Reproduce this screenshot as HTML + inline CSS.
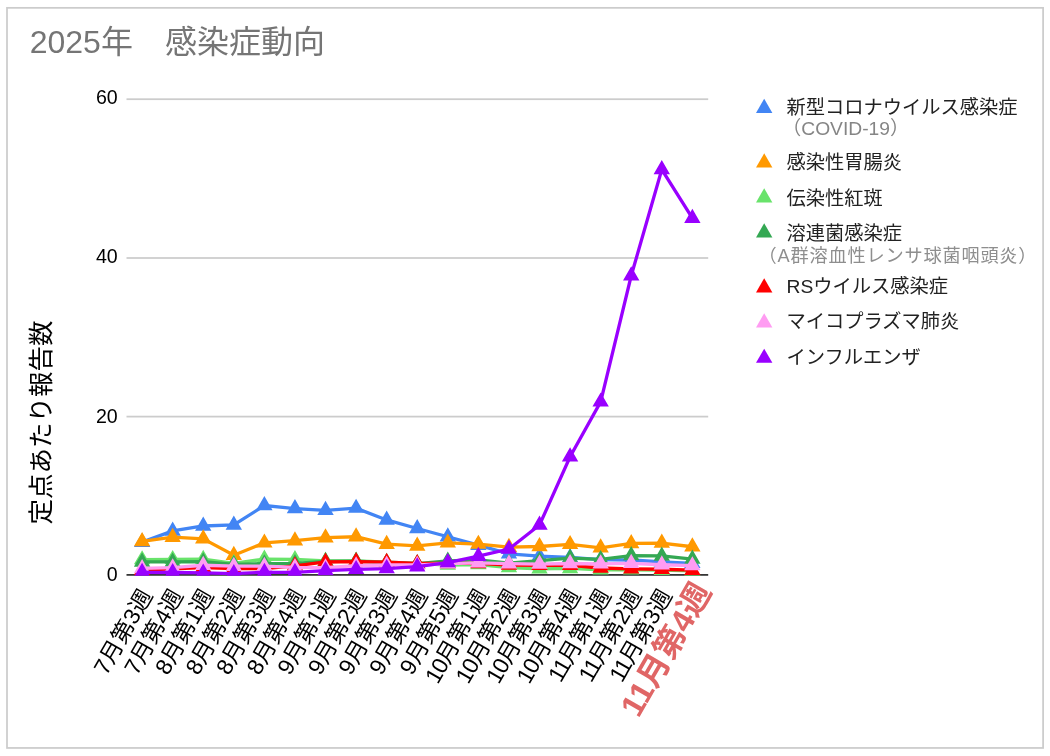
<!DOCTYPE html>
<html lang="ja">
<head>
<meta charset="utf-8">
<title>2025年 感染症動向</title>
<style>
html,body{margin:0;padding:0;background:#fff;}
body{width:1050px;height:756px;overflow:hidden;}
svg{display:block;font-family:"Liberation Sans","Noto Sans CJK JP",sans-serif;}
</style>
</head>
<body>
<svg width="1050" height="756" viewBox="0 0 1050 756">
<rect x="0" y="0" width="1050" height="756" fill="#fff"/>
<rect x="7.0" y="7.85" width="1036.1" height="740.1" fill="none" stroke="#cccccc" stroke-width="1.75"/>
<text id="title" x="29.7" y="53.0" font-size="32" fill="#757575"><tspan id="tdig">2025</tspan>年　感染症動向</text>
<rect x="126.5" y="98.33" width="581.7" height="1.75" fill="#cccccc"/>
<rect x="126.5" y="257.12" width="581.7" height="1.75" fill="#cccccc"/>
<rect x="126.5" y="415.73" width="581.7" height="1.75" fill="#cccccc"/>
<rect x="126.5" y="574.02" width="581.7" height="1.75" fill="#333333"/>
<text id="yt0" x="117.7" y="580.9" font-size="19.6" text-anchor="end" fill="#000">0</text>
<text id="yt20" x="117.7" y="422.7" font-size="19.6" text-anchor="end" fill="#000">20</text>
<text id="yt40" x="117.7" y="263.3" font-size="19.6" text-anchor="end" fill="#000">40</text>
<text id="yt60" x="117.7" y="104.0" font-size="19.6" text-anchor="end" fill="#000">60</text>
<text id="ytitle" transform="translate(50.0,422.4) rotate(-90)" font-size="25.5" text-anchor="middle" fill="#000">定点あたり報告数</text>
<defs><clipPath id="ca"><rect x="126.5" y="90" width="581.7" height="485.80"/></clipPath></defs>
<g clip-path="url(#ca)">
<polyline points="142.10,542.15 172.67,530.97 203.24,525.98 233.81,524.95 264.38,505.52 294.95,508.53 325.52,510.28 356.09,508.14 386.66,519.95 417.23,528.52 447.80,536.76 478.37,545.17 508.94,553.89 539.51,556.19 570.08,557.46 600.65,559.68 631.22,559.99 661.79,561.82 692.36,563.32" fill="none" stroke="#4285F4" stroke-width="3.3" stroke-linejoin="miter"/>
<path d="M142.10,532.68L150.30,546.89L133.90,546.89ZM172.67,521.50L180.87,535.71L164.47,535.71ZM203.24,516.51L211.44,530.71L195.04,530.71ZM233.81,515.48L242.01,529.68L225.61,529.68ZM264.38,496.05L272.58,510.26L256.18,510.26ZM294.95,499.07L303.15,513.27L286.75,513.27ZM325.52,500.81L333.72,515.01L317.32,515.01ZM356.09,498.67L364.29,512.87L347.89,512.87ZM386.66,510.48L394.86,524.69L378.46,524.69ZM417.23,519.05L425.43,533.25L409.03,533.25ZM447.80,527.29L456.00,541.50L439.60,541.50ZM478.37,535.70L486.57,549.90L470.17,549.90ZM508.94,544.42L517.14,558.62L500.74,558.62ZM539.51,546.72L547.71,560.92L531.31,560.92ZM570.08,547.99L578.28,562.19L561.88,562.19ZM600.65,550.21L608.85,564.41L592.45,564.41ZM631.22,550.52L639.42,564.73L623.02,564.73ZM661.79,552.35L669.99,566.55L653.59,566.55ZM692.36,553.86L700.56,568.06L684.16,568.06Z" fill="#4285F4"/>
<polyline points="142.10,541.44 172.67,537.16 203.24,538.82 233.81,555.24 264.38,542.87 294.95,540.73 325.52,537.71 356.09,536.76 386.66,544.21 417.23,545.96 447.80,542.87 478.37,544.14 508.94,547.15 539.51,546.51 570.08,544.37 600.65,547.78 631.22,543.42 661.79,543.03 692.36,546.75" fill="none" stroke="#FF9900" stroke-width="3.3" stroke-linejoin="miter"/>
<path d="M142.10,531.97L150.30,546.17L133.90,546.17ZM172.67,527.69L180.87,541.89L164.47,541.89ZM203.24,529.35L211.44,543.56L195.04,543.56ZM233.81,545.77L242.01,559.97L225.61,559.97ZM264.38,533.40L272.58,547.60L256.18,547.60ZM294.95,531.26L303.15,545.46L286.75,545.46ZM325.52,528.24L333.72,542.45L317.32,542.45ZM356.09,527.29L364.29,541.50L347.89,541.50ZM386.66,534.75L394.86,548.95L378.46,548.95ZM417.23,536.49L425.43,550.69L409.03,550.69ZM447.80,533.40L456.00,547.60L439.60,547.60ZM478.37,534.67L486.57,548.87L470.17,548.87ZM508.94,537.68L517.14,551.88L500.74,551.88ZM539.51,537.05L547.71,551.25L531.31,551.25ZM570.08,534.90L578.28,549.11L561.88,549.11ZM600.65,538.31L608.85,552.52L592.45,552.52ZM631.22,533.95L639.42,548.16L623.02,548.16ZM661.79,533.56L669.99,547.76L653.59,547.76ZM692.36,537.28L700.56,551.49L684.16,551.49Z" fill="#FF9900"/>
<polyline points="142.10,559.60 172.67,559.36 203.24,559.20 233.81,563.40 264.38,559.04 294.95,559.44 325.52,561.02 356.09,560.94 386.66,562.21 417.23,563.40 447.80,564.99 478.37,564.59 508.94,567.61 539.51,568.87 570.08,568.40 600.65,569.83 631.22,569.75 661.79,570.14 692.36,570.94" fill="none" stroke="#69E36B" stroke-width="3.3" stroke-linejoin="miter"/>
<path d="M142.10,550.13L150.30,564.33L133.90,564.33ZM172.67,549.89L180.87,564.09L164.47,564.09ZM203.24,549.73L211.44,563.93L195.04,563.93ZM233.81,553.93L242.01,568.14L225.61,568.14ZM264.38,549.57L272.58,563.78L256.18,563.78ZM294.95,549.97L303.15,564.17L286.75,564.17ZM325.52,551.56L333.72,565.76L317.32,565.76ZM356.09,551.48L364.29,565.68L347.89,565.68ZM386.66,552.75L394.86,566.95L378.46,566.95ZM417.23,553.93L425.43,568.14L409.03,568.14ZM447.80,555.52L456.00,569.72L439.60,569.72ZM478.37,555.12L486.57,569.33L470.17,569.33ZM508.94,558.14L517.14,572.34L500.74,572.34ZM539.51,559.41L547.71,573.61L531.31,573.61ZM570.08,558.93L578.28,573.13L561.88,573.13ZM600.65,560.36L608.85,574.56L592.45,574.56ZM631.22,560.28L639.42,574.48L623.02,574.48ZM661.79,560.67L669.99,574.88L653.59,574.88ZM692.36,561.47L700.56,575.67L684.16,575.67Z" fill="#69E36B"/>
<polyline points="142.10,561.90 172.67,561.90 203.24,561.74 233.81,564.35 264.38,563.64 294.95,563.40 325.52,561.42 356.09,561.10 386.66,562.61 417.23,563.64 447.80,561.02 478.37,559.83 508.94,563.17 539.51,560.63 570.08,558.09 600.65,559.36 631.22,555.55 661.79,555.95 692.36,559.04" fill="none" stroke="#34A853" stroke-width="3.3" stroke-linejoin="miter"/>
<path d="M142.10,552.43L150.30,566.63L133.90,566.63ZM172.67,552.43L180.87,566.63L164.47,566.63ZM203.24,552.27L211.44,566.47L195.04,566.47ZM233.81,554.89L242.01,569.09L225.61,569.09ZM264.38,554.17L272.58,568.38L256.18,568.38ZM294.95,553.93L303.15,568.14L286.75,568.14ZM325.52,551.95L333.72,566.15L317.32,566.15ZM356.09,551.63L364.29,565.84L347.89,565.84ZM386.66,553.14L394.86,567.34L378.46,567.34ZM417.23,554.17L425.43,568.38L409.03,568.38ZM447.80,551.56L456.00,565.76L439.60,565.76ZM478.37,550.37L486.57,564.57L470.17,564.57ZM508.94,553.70L517.14,567.90L500.74,567.90ZM539.51,551.16L547.71,565.36L531.31,565.36ZM570.08,548.62L578.28,562.82L561.88,562.82ZM600.65,549.89L608.85,564.09L592.45,564.09ZM631.22,546.08L639.42,560.29L623.02,560.29ZM661.79,546.48L669.99,560.68L653.59,560.68ZM692.36,549.57L700.56,563.78L684.16,563.78Z" fill="#34A853"/>
<polyline points="142.10,570.14 172.67,568.95 203.24,567.61 233.81,568.72 264.38,568.72 294.95,565.78 325.52,561.98 356.09,561.58 386.66,562.21 417.23,563.40 447.80,563.40 478.37,563.40 508.94,564.99 539.51,565.39 570.08,565.39 600.65,568.00 631.22,568.87 661.79,569.27 692.36,570.14" fill="none" stroke="#FF0000" stroke-width="3.3" stroke-linejoin="miter"/>
<path d="M142.10,560.67L150.30,574.88L133.90,574.88ZM172.67,559.48L180.87,573.69L164.47,573.69ZM203.24,558.14L211.44,572.34L195.04,572.34ZM233.81,559.25L242.01,573.45L225.61,573.45ZM264.38,559.25L272.58,573.45L256.18,573.45ZM294.95,556.31L303.15,570.52L286.75,570.52ZM325.52,552.51L333.72,566.71L317.32,566.71ZM356.09,552.11L364.29,566.31L347.89,566.31ZM386.66,552.75L394.86,566.95L378.46,566.95ZM417.23,553.93L425.43,568.14L409.03,568.14ZM447.80,553.93L456.00,568.14L439.60,568.14ZM478.37,553.93L486.57,568.14L470.17,568.14ZM508.94,555.52L517.14,569.72L500.74,569.72ZM539.51,555.92L547.71,570.12L531.31,570.12ZM570.08,555.92L578.28,570.12L561.88,570.12ZM600.65,558.53L608.85,572.74L592.45,572.74ZM631.22,559.41L639.42,573.61L623.02,573.61ZM661.79,559.80L669.99,574.00L653.59,574.00ZM692.36,560.67L700.56,574.88L684.16,574.88Z" fill="#FF0000"/>
<polyline points="142.10,568.40 172.67,567.61 203.24,565.23 233.81,566.18 264.38,566.18 294.95,567.37 325.52,567.76 356.09,565.70 386.66,564.99 417.23,564.99 447.80,563.72 478.37,562.85 508.94,563.64 539.51,564.04 570.08,563.48 600.65,563.80 631.22,563.32 661.79,564.75 692.36,565.62" fill="none" stroke="#FF9CF2" stroke-width="3.3" stroke-linejoin="miter"/>
<path d="M142.10,558.93L150.30,573.13L133.90,573.13ZM172.67,558.14L180.87,572.34L164.47,572.34ZM203.24,555.76L211.44,569.96L195.04,569.96ZM233.81,556.71L242.01,570.91L225.61,570.91ZM264.38,556.71L272.58,570.91L256.18,570.91ZM294.95,557.90L303.15,572.10L286.75,572.10ZM325.52,558.30L333.72,572.50L317.32,572.50ZM356.09,556.23L364.29,570.44L347.89,570.44ZM386.66,555.52L394.86,569.72L378.46,569.72ZM417.23,555.52L425.43,569.72L409.03,569.72ZM447.80,554.25L456.00,568.45L439.60,568.45ZM478.37,553.38L486.57,567.58L470.17,567.58ZM508.94,554.17L517.14,568.38L500.74,568.38ZM539.51,554.57L547.71,568.77L531.31,568.77ZM570.08,554.01L578.28,568.22L561.88,568.22ZM600.65,554.33L608.85,568.53L592.45,568.53ZM631.22,553.86L639.42,568.06L623.02,568.06ZM661.79,555.28L669.99,569.49L653.59,569.49ZM692.36,556.15L700.56,570.36L684.16,570.36Z" fill="#FF9CF2"/>
<polyline points="142.10,572.28 172.67,572.52 203.24,572.92 233.81,573.55 264.38,572.28 294.95,572.28 325.52,570.54 356.09,569.35 386.66,568.56 417.23,566.65 447.80,562.53 478.37,556.19 508.94,549.05 539.51,525.03 570.08,456.76 600.65,401.89 631.22,275.74 661.79,169.57 692.36,218.17" fill="none" stroke="#9900FF" stroke-width="3.3" stroke-linejoin="miter"/>
<path d="M142.10,562.81L150.30,577.02L133.90,577.02ZM172.67,563.05L180.87,577.26L164.47,577.26ZM203.24,563.45L211.44,577.65L195.04,577.65ZM233.81,564.08L242.01,578.29L225.61,578.29ZM264.38,562.81L272.58,577.02L256.18,577.02ZM294.95,562.81L303.15,577.02L286.75,577.02ZM325.52,561.07L333.72,575.27L317.32,575.27ZM356.09,559.88L364.29,574.08L347.89,574.08ZM386.66,559.09L394.86,573.29L378.46,573.29ZM417.23,557.19L425.43,571.39L409.03,571.39ZM447.80,553.06L456.00,567.27L439.60,567.27ZM478.37,546.72L486.57,560.92L470.17,560.92ZM508.94,539.58L517.14,553.79L500.74,553.79ZM539.51,515.56L547.71,529.76L531.31,529.76ZM570.08,447.29L578.28,461.49L561.88,461.49ZM600.65,392.42L608.85,406.62L592.45,406.62ZM631.22,266.27L639.42,280.47L623.02,280.47ZM661.79,160.10L669.99,174.30L653.59,174.30ZM692.36,208.71L700.56,222.91L684.16,222.91Z" fill="#9900FF"/>
</g>
<text id="xl0" transform="translate(153.30,595.1) rotate(-60)" font-size="22.75" text-anchor="end" fill="#000">7月第3週</text>
<text id="xl1" transform="translate(183.87,595.1) rotate(-60)" font-size="22.75" text-anchor="end" fill="#000">7月第4週</text>
<text id="xl2" transform="translate(214.44,595.1) rotate(-60)" font-size="22.75" text-anchor="end" fill="#000">8月第1週</text>
<text id="xl3" transform="translate(245.01,595.1) rotate(-60)" font-size="22.75" text-anchor="end" fill="#000">8月第2週</text>
<text id="xl4" transform="translate(275.58,595.1) rotate(-60)" font-size="22.75" text-anchor="end" fill="#000">8月第3週</text>
<text id="xl5" transform="translate(306.15,595.1) rotate(-60)" font-size="22.75" text-anchor="end" fill="#000">8月第4週</text>
<text id="xl6" transform="translate(336.72,595.1) rotate(-60)" font-size="22.75" text-anchor="end" fill="#000">9月第1週</text>
<text id="xl7" transform="translate(367.29,595.1) rotate(-60)" font-size="22.75" text-anchor="end" fill="#000">9月第2週</text>
<text id="xl8" transform="translate(397.86,595.1) rotate(-60)" font-size="22.75" text-anchor="end" fill="#000">9月第3週</text>
<text id="xl9" transform="translate(428.43,595.1) rotate(-60)" font-size="22.75" text-anchor="end" fill="#000">9月第4週</text>
<text id="xl10" transform="translate(459.00,595.1) rotate(-60)" font-size="22.75" text-anchor="end" fill="#000">9月第5週</text>
<text id="xl11" transform="translate(489.57,595.1) rotate(-60)" font-size="22.75" text-anchor="end" fill="#000"><tspan letter-spacing="-1.2">10</tspan>月第1週</text>
<text id="xl12" transform="translate(520.14,595.1) rotate(-60)" font-size="22.75" text-anchor="end" fill="#000"><tspan letter-spacing="-1.2">10</tspan>月第2週</text>
<text id="xl13" transform="translate(550.71,595.1) rotate(-60)" font-size="22.75" text-anchor="end" fill="#000"><tspan letter-spacing="-1.2">10</tspan>月第3週</text>
<text id="xl14" transform="translate(581.28,595.1) rotate(-60)" font-size="22.75" text-anchor="end" fill="#000"><tspan letter-spacing="-1.2">10</tspan>月第4週</text>
<text id="xl15" transform="translate(611.85,595.1) rotate(-60)" font-size="22.75" text-anchor="end" fill="#000"><tspan letter-spacing="-1.2">11</tspan>月第1週</text>
<text id="xl16" transform="translate(642.42,595.1) rotate(-60)" font-size="22.75" text-anchor="end" fill="#000"><tspan letter-spacing="-1.2">11</tspan>月第2週</text>
<text id="xl17" transform="translate(672.99,595.1) rotate(-60)" font-size="22.75" text-anchor="end" fill="#000"><tspan letter-spacing="-1.2">11</tspan>月第3週</text>
<text id="xl18" transform="translate(712.36,591) rotate(-60)" font-size="32" font-weight="bold" text-anchor="end" fill="#E06666">11月第4週</text>
<path d="M764.20,98.73L772.40,112.93L756.00,112.93Z" fill="#4285F4"/>
<text id="leg0" x="786.5" y="113.9" font-size="19.25" fill="#222">新型コロナウイルス感染症</text>
<path d="M764.20,153.33L772.40,167.53L756.00,167.53Z" fill="#FF9900"/>
<text id="leg1" x="786.5" y="168.5" font-size="19.25" fill="#222">感染性胃腸炎</text>
<path d="M764.20,188.23L772.40,202.43L756.00,202.43Z" fill="#69E36B"/>
<text id="leg2" x="786.5" y="204.8" font-size="19.25" fill="#222">伝染性紅斑</text>
<path d="M764.20,223.23L772.40,237.43L756.00,237.43Z" fill="#34A853"/>
<text id="leg3" x="786.5" y="239.8" font-size="19.25" fill="#222">溶連菌感染症</text>
<path d="M764.20,278.23L772.40,292.43L756.00,292.43Z" fill="#FF0000"/>
<text id="leg4" x="786.5" y="293.4" font-size="19.25" fill="#222">RSウイルス感染症</text>
<path d="M764.20,313.23L772.40,327.43L756.00,327.43Z" fill="#FF9CF2"/>
<text id="leg5" x="786.5" y="328.4" font-size="19.25" fill="#222">マイコプラズマ肺炎</text>
<path d="M764.20,348.63L772.40,362.83L756.00,362.83Z" fill="#9900FF"/>
<text id="leg6" x="786.5" y="363.8" font-size="19.25" fill="#222">インフルエンザ</text>
<text id="covid" x="782" y="135.4" font-size="19.25" fill="#858585">（COVID-19）</text>
<text id="sub" x="758.6" y="262.3" font-size="18.2" letter-spacing="0.8" fill="#8e8e8e">（A群溶血性レンサ球菌咽頭炎）</text>
</svg>
</body>
</html>
